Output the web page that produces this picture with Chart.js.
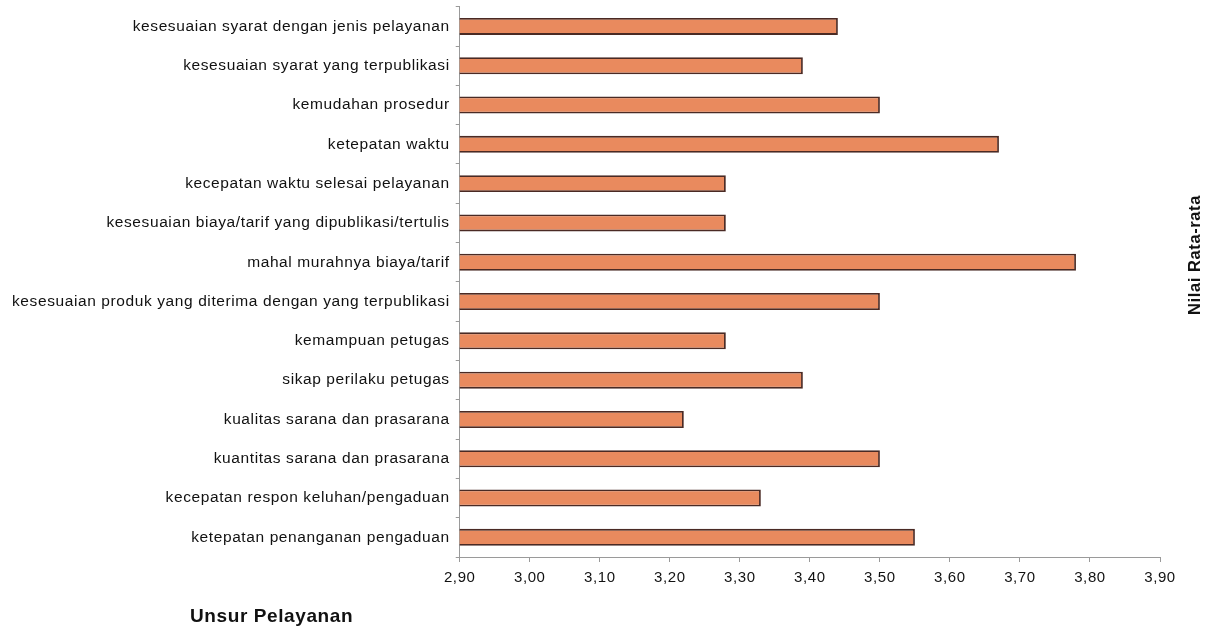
<!DOCTYPE html>
<html>
<head>
<meta charset="utf-8">
<script src="https://cdn.jsdelivr.net/npm/chart.js@4.4.1/dist/chart.umd.min.js"></script>
<style>
  html, body { margin: 0; padding: 0; background: #ffffff; }
  #wrap { width: 1209px; height: 629px; position: relative; }
</style>
</head>
<body>
<div id="wrap"><canvas id="chart" width="1209" height="629"></canvas></div>
<script>
// Unsur pelayanan (service elements), top to bottom
const categories = [
  'kesesuaian syarat dengan jenis pelayanan',
  'kesesuaian syarat yang terpublikasi',
  'kemudahan prosedur',
  'ketepatan waktu',
  'kecepatan waktu selesai pelayanan',
  'kesesuaian biaya/tarif yang dipublikasi/tertulis',
  'mahal murahnya biaya/tarif',
  'kesesuaian produk yang diterima dengan yang terpublikasi',
  'kemampuan petugas',
  'sikap perilaku petugas',
  'kualitas sarana dan prasarana',
  'kuantitas sarana dan prasarana',
  'kecepatan respon keluhan/pengaduan',
  'ketepatan penanganan pengaduan'
];

// Nilai rata-rata (average score) per element
const averageScores = [3.44, 3.39, 3.50, 3.67, 3.28, 3.28, 3.78, 3.50, 3.28, 3.39, 3.22, 3.50, 3.33, 3.55];

// Value axis range and step
const axisMin = 2.90;
const axisMax = 3.90;
const axisStep = 0.10;

const valueAxisTitle = 'Nilai Rata-rata';
const categoryAxisTitle = 'Unsur Pelayanan';

const FONT = 'Arial, "Liberation Sans", Helvetica, sans-serif';
const LETTER_SPACING = '0.6px';

// Slightly open letter spacing for every text (set before measuring and drawing)
const textSpacing = {
  id: 'textSpacing',
  beforeUpdate(chart) { chart.ctx.letterSpacing = LETTER_SPACING; },
  beforeLayout(chart) { chart.ctx.letterSpacing = LETTER_SPACING; },
  beforeDraw(chart) { chart.ctx.letterSpacing = LETTER_SPACING; }
};

// Draws the two axis titles: the value title rotated on the right,
// the category title under the bottom-left corner.
const axisTitles = {
  id: 'axisTitles',
  afterDraw(chart) {
    const { ctx, chartArea } = chart;
    ctx.save();
    ctx.fillStyle = '#111111';
    ctx.font = 'bold 16.5px ' + FONT;
    ctx.textAlign = 'center';
    ctx.textBaseline = 'middle';
    ctx.translate(chartArea.right + 35, 255);
    ctx.rotate(-Math.PI / 2);
    ctx.fillText(valueAxisTitle, 0, 0);
    ctx.restore();

    ctx.save();
    ctx.fillStyle = '#111111';
    ctx.font = 'bold 19px ' + FONT;
    ctx.textAlign = 'left';
    ctx.textBaseline = 'middle';
    ctx.fillText(categoryAxisTitle, 190, chartArea.bottom + 60);
    ctx.restore();
  }
};

new Chart(document.getElementById('chart'), {
  type: 'bar',
  data: {
    labels: categories,
    datasets: [{
      data: averageScores,
      backgroundColor: '#E98A5E',
      borderColor: '#4A2A24',
      borderWidth: 1.8,
      borderSkipped: false,
      categoryPercentage: 0.9,
      barPercentage: 0.48
    }]
  },
  options: {
    indexAxis: 'y',
    responsive: false,
    animation: false,
    devicePixelRatio: 1,
    layout: { padding: { top: 0, right: 49, bottom: 35, left: 6 } },
    plugins: {
      legend: { display: false },
      tooltip: { enabled: false },
      title: { display: false }
    },
    scales: {
      x: {
        min: axisMin,
        max: axisMax,
        border: { display: true, color: '#9a9a9a', width: 1 },
        grid: { display: true, drawOnChartArea: false, drawTicks: true, tickLength: 5, color: '#9a9a9a' },
        ticks: {
          stepSize: axisStep,
          color: '#111111',
          font: { family: FONT, size: 15 },
          padding: 7,
          maxRotation: 0,
          callback: (v) => Number(v).toFixed(2).replace('.', ',')
        }
      },
      y: {
        border: { display: true, color: '#9a9a9a', width: 1 },
        grid: { display: true, drawOnChartArea: false, drawTicks: true, tickLength: 4, color: '#9a9a9a', offset: true },
        ticks: {
          color: '#111111',
          // single-line labels: a tight line height keeps the plot close to the top edge
          font: { family: FONT, size: 15.5, lineHeight: 0.1 },
          padding: 6,
          autoSkip: false
        }
      }
    }
  },
  plugins: [textSpacing, axisTitles]
});
</script>
</body>
</html>
